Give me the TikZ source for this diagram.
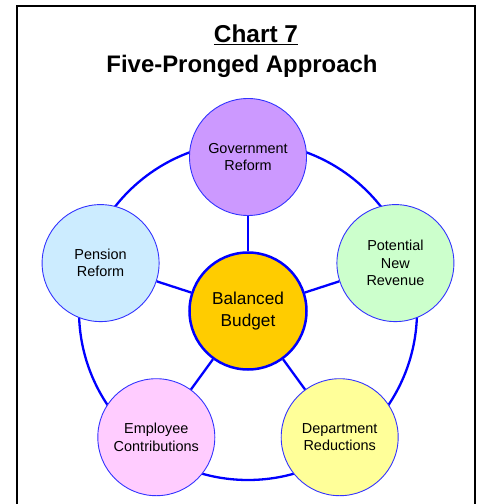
\documentclass[tikz,border=0pt]{standalone}
\usepackage{fontspec}
\setmainfont{Liberation Sans}

\definecolor{govfill}{HTML}{CC99FF}
\definecolor{pensionfill}{HTML}{CCECFF}
\definecolor{revenuefill}{HTML}{CCFFCC}
\definecolor{employeefill}{HTML}{FFCCFF}
\definecolor{deptfill}{HTML}{FFFF99}
\definecolor{budgetfill}{HTML}{FFCC00}
\definecolor{ringblue}{HTML}{0000FF}

\begin{document}
\begin{tikzpicture}[x=1bp,y=1bp]

              % Definitions
              \tikzstyle{Prong} = [circle, minimum size=117bp, inner sep=0pt, align=center, draw=ringblue!80, line width=0.9bp, font=\fontsize{14.5}{17.5}\selectfont]
              \tikzstyle{Hub} = [circle, minimum size=117bp, inner sep=0pt, align=center, draw=ringblue, line width=2.5bp, fill=budgetfill, font=\fontsize{17.3}{22}\selectfont]
              \tikzstyle{spoke} = [ringblue, line width=2.3bp]

              \clip (-248,-193) rectangle (237,311);
              \draw [line width=2bp] (-231,-200) -- (-231,305) -- (227,305) -- (227,-200);

              \node (chart) [anchor=base, font=\fontsize{24.5}{28}\bfseries] at (8,268) {\underline{Chart 7}};
              \node (approach) [anchor=base, font=\fontsize{24}{28}\bfseries] at (-6,238) {Five-Pronged Approach};

              % ring behind the circles
              \coordinate (hub) at (0,0);
              \draw [spoke] (hub) circle (169);

              \node (BB) [Hub] at (hub) {Balanced\\Budget};
              \node (GR) [Prong, fill=govfill] at (90:154) {Government\\Reform};
              \node (PNR) [Prong, fill=revenuefill] at (18:155) {Potential\\New\\Revenue};
              \node (DR) [Prong, fill=deptfill] at (306:156) {Department\\Reductions};
              \node (EC) [Prong, fill=employeefill] at (234:156) {Employee\\Contributions};
              \node (PR) [Prong, fill=pensionfill] at (162:155) {Pension\\Reform};

              \draw [spoke] (BB) -- (GR);
              \draw [spoke] (BB) -- (PNR);
              \draw [spoke] (BB) -- (DR);
              \draw [spoke] (BB) -- (EC);
              \draw [spoke] (BB) -- (PR);

\end{tikzpicture}
\end{document}
